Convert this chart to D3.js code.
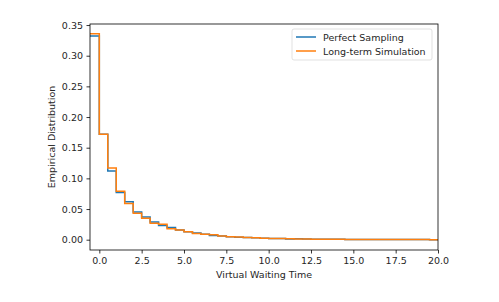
<!DOCTYPE html>
<html>
<head>
<meta charset="utf-8">
<script src="https://cdn.jsdelivr.net/npm/d3@7"></script>
<style>
  body { margin: 0; background: #fff; }
  svg text { font-family: "DejaVu Sans", sans-serif; fill: #262626; }
</style>
</head>
<body>
<div id="chart"></div>
<script>
// bin edges (left) of each step, width 0.5
const binStarts = [-0.55, 0, 0.5, 1, 1.5, 2, 2.5, 3, 3.5, 4, 4.5, 5, 5.5, 6, 6.5, 7, 7.5, 8, 8.5, 9, 9.5,
  10, 10.5, 11, 11.5, 12, 12.5, 13, 13.5, 14, 14.5, 15, 15.5, 16, 16.5, 17, 17.5, 18, 18.5, 19, 19.5];
const binEnd = 20;
const perfectSampling = [0.332, 0.172, 0.112, 0.077, 0.062, 0.045, 0.037, 0.029, 0.023, 0.020, 0.016,
  0.013, 0.011, 0.009, 0.007, 0.006, 0.005, 0.004, 0.0035, 0.003, 0.0025,
  0.002, 0.0018, 0.0012, 0.0014, 0.001, 0.0009, 0.0008, 0.0007, 0.0006, 0.0005,
  0.0005, 0.0004, 0.0004, 0.0003, 0.0003, 0.0003, 0.0002, 0.0002, 0.0002, 0.0001];
const longTermSimulation = [0.336, 0.172, 0.117, 0.079, 0.059, 0.043, 0.035, 0.027, 0.025, 0.018, 0.016,
  0.013, 0.010, 0.009, 0.008, 0.006, 0.005, 0.0045, 0.0035, 0.003, 0.0025,
  0.002, 0.0018, 0.0015, 0.0012, 0.001, 0.0009, 0.0008, 0.0007, 0.0006, 0.0005,
  0.0005, 0.0004, 0.0004, 0.0003, 0.0003, 0.0003, 0.0002, 0.0002, 0.0002, 0.0001];
const seriesNames = ["Perfect Sampling", "Long-term Simulation"];
const seriesColors = ["#1f77b4", "#ff7f0e"];
const xTicks = [0, 2.5, 5, 7.5, 10, 12.5, 15, 17.5, 20];
const yTicks = [0, 0.05, 0.10, 0.15, 0.20, 0.25, 0.30, 0.35];

const width = 499, height = 302;
const margin = {top: 24, right: 61, bottom: 52, left: 90};

const svg = d3.select('#chart').append('svg')
    .attr('width', width)
    .attr('height', height);

const x = d3.scaleLinear().domain([-0.55, 20]).range([margin.left, width - margin.right]);
const y = d3.scaleLinear().domain([-0.0168, 0.3517]).range([height - margin.bottom, margin.top]);

const clip = svg.append('clipPath').attr('id', 'clip')
  .append('rect')
    .attr('x', margin.left).attr('y', margin.top)
    .attr('width', width - margin.left - margin.right)
    .attr('height', height - margin.top - margin.bottom);

function stepPoints(vals) {
    const pts = [];
    vals.forEach((v, i) => {
        const x1 = i + 1 < binStarts.length ? binStarts[i + 1] : binEnd;
        pts.push([binStarts[i], v]);
        pts.push([x1, v]);
    });
    return pts;
}

const line = d3.line().x(d => x(d[0])).y(d => y(d[1]));

[perfectSampling, longTermSimulation].forEach((vals, i) => {
    svg.append('path')
        .attr('d', line(stepPoints(vals)))
        .attr('clip-path', 'url(#clip)')
        .style('fill', 'none')
        .style('stroke', seriesColors[i])
        .style('stroke-width', 1.5)
        .style('stroke-linejoin', 'miter');
});

// frame
svg.append('rect')
    .attr('x', margin.left).attr('y', margin.top)
    .attr('width', width - margin.left - margin.right)
    .attr('height', height - margin.top - margin.bottom)
    .style('fill', 'none')
    .style('stroke', '#000')
    .style('stroke-width', 0.8);

const xAxis = svg.append('g')
    .attr('transform', `translate(0, ${height - margin.bottom})`)
    .call(d3.axisBottom(x).tickValues(xTicks).tickFormat(d3.format('.1f')).tickSize(3.5).tickPadding(3.5));
const yAxis = svg.append('g')
    .attr('transform', `translate(${margin.left}, 0)`)
    .call(d3.axisLeft(y).tickValues(yTicks).tickFormat(d3.format('.2f')).tickSize(3.5).tickPadding(3.5));

[xAxis, yAxis].forEach(a => {
    a.select('.domain').remove();
    a.selectAll('line').style('stroke', '#000').style('stroke-width', 0.8);
    a.selectAll('text').style('font-size', '9.5px').style('fill', '#262626').attr('font-family', null);
});

svg.append('text')
    .attr('x', (margin.left + width - margin.right) / 2)
    .attr('y', 278)
    .attr('text-anchor', 'middle')
    .style('font-size', '9.5px')
    .text('Virtual Waiting Time');

svg.append('text')
    .attr('transform', `translate(55, ${(margin.top + height - margin.bottom) / 2}) rotate(-90)`)
    .attr('text-anchor', 'middle')
    .style('font-size', '9.5px')
    .text('Empirical Distribution');

// legend
const legend = svg.append('g').attr('transform', 'translate(292, 29)');
legend.append('rect')
    .attr('width', 140).attr('height', 31).attr('rx', 2)
    .style('fill', '#fff').style('fill-opacity', 0.8)
    .style('stroke', '#d9d9d9').style('stroke-width', 0.8);
seriesNames.forEach((name, i) => {
    const row = legend.append('g').attr('transform', `translate(0, ${8 + i * 14})`);
    row.append('line')
        .attr('x1', 4).attr('x2', 24)
        .style('stroke', seriesColors[i]).style('stroke-width', 1.5);
    row.append('text')
        .attr('x', 31).attr('y', 3.5)
        .style('font-size', '9.5px')
        .text(name);
});
</script>
</body>
</html>
